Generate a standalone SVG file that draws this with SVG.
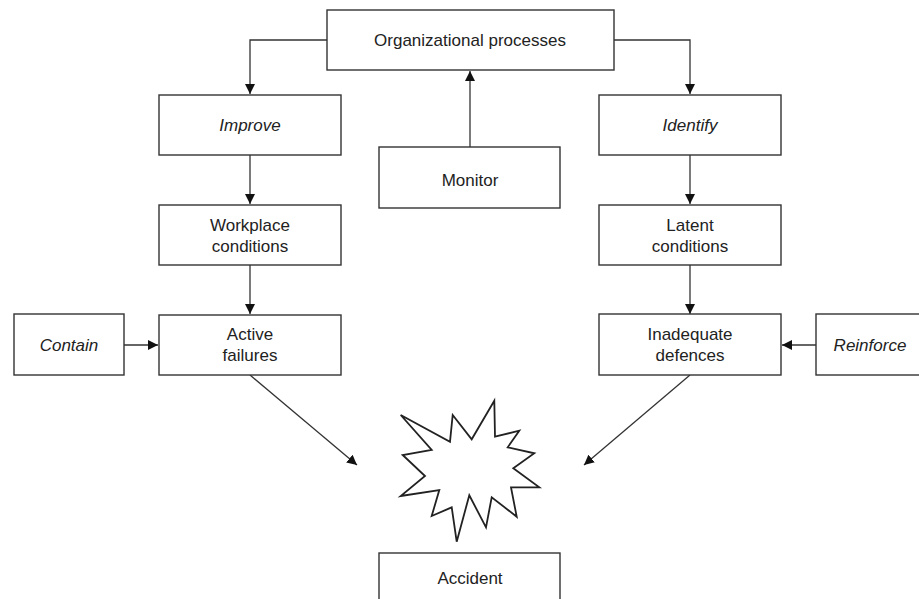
<svg xmlns="http://www.w3.org/2000/svg" width="919" height="599" viewBox="0 0 919 599">
  <style>
    .box { fill: #fff; stroke: #333; stroke-width: 1.4; }
    .lbl { font-family: "Liberation Sans", Arial, sans-serif; font-size: 17px; fill: #222; text-anchor: middle; dominant-baseline: central; }
    .it { font-style: italic; }
    .wire { fill: none; stroke: #333; stroke-width: 1.3; }
  </style>
  <defs>
    <marker id="head" viewBox="0 0 10 10" refX="10" refY="5" markerWidth="10" markerHeight="10" markerUnits="userSpaceOnUse" orient="auto">
      <path d="M0,0 L10,5 L0,10 Z" fill="#111"/>
    </marker>
  </defs>

  <g id="connectors">
    <path class="wire" d="M327,40 H250 V94" marker-end="url(#head)"/>
    <path class="wire" d="M614,40 H690 V94" marker-end="url(#head)"/>
    <path class="wire" d="M470,147 V71" marker-end="url(#head)"/>
    <path class="wire" d="M250,155 V204" marker-end="url(#head)"/>
    <path class="wire" d="M690,155 V204" marker-end="url(#head)"/>
    <path class="wire" d="M250,265 V314" marker-end="url(#head)"/>
    <path class="wire" d="M690,265 V314" marker-end="url(#head)"/>
    <path class="wire" d="M124,345 H158" marker-end="url(#head)"/>
    <path class="wire" d="M816,345 H782" marker-end="url(#head)"/>
    <path class="wire" d="M250,375 L357,465" marker-end="url(#head)"/>
    <path class="wire" d="M690,375 L584,465" marker-end="url(#head)"/>
  </g>

  <g id="organizational-processes">
    <rect class="box" x="327" y="10" width="287" height="60"/>
    <text class="lbl" x="470" y="40">Organizational processes</text>
  </g>
  <g id="improve">
    <rect class="box" x="159" y="95" width="182" height="60"/>
    <text class="lbl it" x="250" y="125">Improve</text>
  </g>
  <g id="monitor">
    <rect class="box" x="379" y="147" width="181" height="61"/>
    <text class="lbl" x="470" y="180">Monitor</text>
  </g>
  <g id="identify">
    <rect class="box" x="599" y="95" width="182" height="60"/>
    <text class="lbl it" x="690" y="125">Identify</text>
  </g>
  <g id="workplace-conditions">
    <rect class="box" x="159" y="205" width="182" height="60"/>
    <text class="lbl" x="250" y="225">Workplace</text>
    <text class="lbl" x="250" y="246">conditions</text>
  </g>
  <g id="latent-conditions">
    <rect class="box" x="599" y="205" width="182" height="60"/>
    <text class="lbl" x="690" y="225">Latent</text>
    <text class="lbl" x="690" y="246">conditions</text>
  </g>
  <g id="contain">
    <rect class="box" x="14" y="314" width="110" height="61"/>
    <text class="lbl it" x="69" y="345">Contain</text>
  </g>
  <g id="active-failures">
    <rect class="box" x="159" y="315" width="182" height="60"/>
    <text class="lbl" x="250" y="334">Active</text>
    <text class="lbl" x="250" y="355">failures</text>
  </g>
  <g id="inadequate-defences">
    <rect class="box" x="599" y="314" width="182" height="61"/>
    <text class="lbl" x="690" y="334">Inadequate</text>
    <text class="lbl" x="690" y="355">defences</text>
  </g>
  <g id="reinforce">
    <rect class="box" x="816" y="314" width="110" height="61"/>
    <text class="lbl it" x="870" y="345">Reinforce</text>
  </g>
  <g id="burst">
    <polygon fill="#fff" stroke="#222" stroke-width="1.8" stroke-linejoin="miter"
      points="400.7,415 450,441.7 452.7,415 471.7,439.3 494.3,400.7 495,436.7 519.3,430.7 507.7,447.3 534.3,453.3 513.3,468.3 539.3,487.3 511,487.3 516.7,516.7 491.7,497.3 486,527.3 469.3,495.3 456.7,541.7 451.7,507.3 431.7,516 439.3,490 400.7,496 425,476 402.7,455 431.7,450"/>
  </g>
  <g id="accident">
    <rect class="box" x="379" y="553" width="181" height="60"/>
    <text class="lbl" x="470" y="578">Accident</text>
  </g>
</svg>
